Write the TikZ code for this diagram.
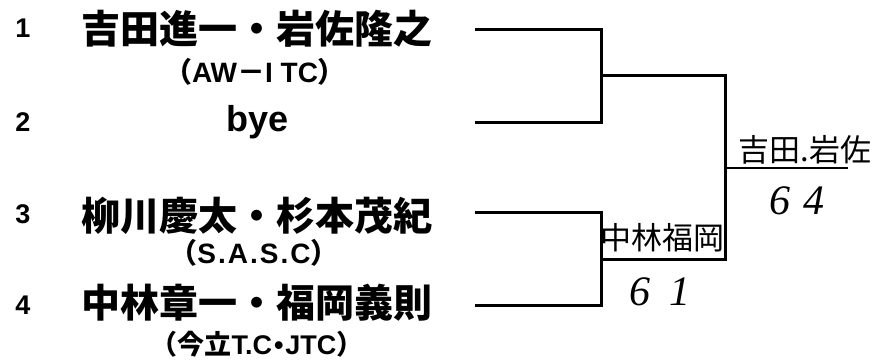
\documentclass[tikz,border=0pt]{standalone}
\usepackage{fontspec}
\setmainfont{Liberation Sans}
\newfontfamily\cjk{Noto Sans CJK JP}
\newfontfamily\hand{Liberation Serif}
\begin{document}
\begin{tikzpicture}[x=1pt,y=-1pt,
  seednum/.style={anchor=base,inner sep=0pt,font=\fontsize{27}{27}\selectfont\bfseries},
  pairname/.style={anchor=base,inner sep=0pt,font=\fontsize{39}{39}\selectfont\cjk\bfseries},
  clubname/.style={anchor=base,inner sep=0pt,font=\fontsize{28}{28}\selectfont\bfseries},
  handj/.style={anchor=base,inner sep=0pt,font=\fontsize{31}{31}\selectfont\cjk},
  handn/.style={anchor=base,inner sep=0pt,font=\fontsize{42}{42}\selectfont\hand\itshape},
  br/.style={line width=3pt,line cap=rect},
  fin/.style={line width=2.4pt}]
\useasboundingbox (0,0) rectangle (873,361);
% seeds
\node[seednum] (n1) at (23,38) {1};
\node[seednum] (n2) at (23,131) {2};
\node[seednum] (n3) at (23,223) {3};
\node[seednum] (n4) at (23,314) {4};
\node[pairname] (p1) at (257,44) {吉田進一・岩佐隆之};
\node[clubname] (c1) at (255,82) {{\cjk （}AW{\cjk －}I TC{\cjk ）}};
\node[anchor=base,inner sep=0pt,font=\fontsize{36}{36}\selectfont\bfseries] (p2) at (258,131) {bye};
\node[pairname] (p3) at (257,230) {柳川慶太・杉本茂紀};
\node[clubname] (c3) at (254,263) {{\cjk （}S\kern2pt.\kern2pt A\kern2pt.\kern2pt S\kern2pt.\kern2pt C{\cjk ）}};
\node[pairname] (p4) at (257,317) {中林章一・福岡義則};
\node[clubname,font=\fontsize{27}{27}\selectfont\bfseries] (c4) at (257,354) {{\cjk （今立}T.C\kern2pt•\kern2pt JTC{\cjk ）}};
% bracket points
\coordinate (a1) at (476,30);  \coordinate (j1) at (601,30);
\coordinate (a2) at (476,122); \coordinate (j2) at (601,122);
\coordinate (m1) at (601,76);  \coordinate (k1) at (725,76);
\coordinate (a3) at (476,212); \coordinate (j3) at (601,212);
\coordinate (a4) at (476,305); \coordinate (j4) at (601,305);
\coordinate (m2) at (601,259); \coordinate (k2) at (725,259);
\coordinate (f) at (725,168);  \coordinate (fe) at (848,168);
\draw[br] (a1) -- (j1) -- (j2) -- (a2);
\draw[br] (a3) -- (j3) -- (j4) -- (a4);
\draw[br] (m1) -- (k1) -- (k2) -- (m2);
\draw[fin] (f) -- (fe);
% handwritten results
\node[handj] (w2) at (662,249) {中林福岡};
\node[handn] (s2) at (660,305) {6\hspace{20pt}1};
\node[handj] (w1) at (805,161) {吉田.岩佐};
\node[handn] (s1) at (797,214) {6\hspace{14pt}4};
\end{tikzpicture}
\end{document}
